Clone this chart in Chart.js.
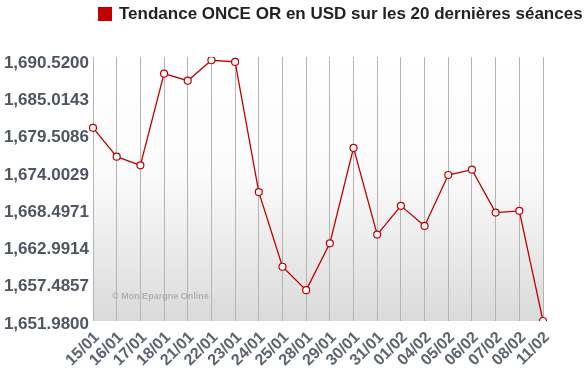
<!DOCTYPE html>
<html>
<head>
<meta charset="utf-8">
<script src="https://cdn.jsdelivr.net/npm/chart.js@4/dist/chart.umd.min.js"></script>
<style>
html,body{margin:0;padding:0;background:#fff;}
#wrap{width:588px;height:371px;position:relative;}
</style>
</head>
<body>
<div id="wrap"><canvas id="c"></canvas></div>
<script>
const titleText = "Tendance ONCE OR en USD sur les 20 dernières séances";
const categories = ["15/01","16/01","17/01","18/01","21/01","22/01","23/01","24/01","25/01","28/01","29/01","30/01","31/01","01/02","04/02","05/02","06/02","07/02","08/02","11/02"];
const prices = [1680.53,1676.27,1674.99,1688.54,1687.50,1690.52,1690.27,1671.03,1660.00,1656.54,1663.46,1677.56,1664.75,1669.00,1666.03,1673.56,1674.34,1668.01,1668.26,1651.98];
const yTickValues = [1651.98,1657.4857,1662.9914,1668.4971,1674.0029,1679.5086,1685.0143,1690.52];
const yTickLabels = ["1,651.9800","1,657.4857","1,662.9914","1,668.4971","1,674.0029","1,679.5086","1,685.0143","1,690.5200"];
const watermark = "© Mon Epargne Online";

const bgPlugin = {
  id: 'bg',
  beforeDraw(chart) {
    const {ctx, chartArea: a} = chart;
    const g = ctx.createLinearGradient(0, a.top, 0, a.bottom);
    g.addColorStop(0, '#ffffff');
    g.addColorStop(0.45, '#fbfbfb');
    g.addColorStop(1, '#dadada');
    ctx.save();
    ctx.fillStyle = g;
    ctx.fillRect(a.left, a.top, a.right - a.left, a.bottom - a.top);
    ctx.restore();
  },
  beforeDatasetsDraw(chart) {
    const {ctx} = chart;
    ctx.save();
    ctx.font = 'bold 9px "Liberation Sans", Arial, sans-serif';
    ctx.fillStyle = '#b0b0b0';
    ctx.textBaseline = 'middle';
    ctx.fillText(watermark, 112, 297);
    ctx.restore();
  },
  afterDraw(chart) {
    const {ctx} = chart;
    ctx.save();
    ctx.fillStyle = '#c00000';
    ctx.fillRect(98, 7, 14, 14);
    ctx.font = 'bold 17px "Liberation Sans", Arial, sans-serif';
    ctx.fillStyle = '#222222';
    ctx.textBaseline = 'middle';
    ctx.fillText(titleText, 119, 14);
    ctx.restore();
  }
};

new Chart(document.getElementById('c'), {
  type: 'line',
  data: {
    labels: categories,
    datasets: [{
      data: prices,
      borderColor: '#c00000',
      borderWidth: 1.3,
      backgroundColor: '#ffffff',
      pointBackgroundColor: '#ffffff',
      pointBorderColor: '#c00000',
      pointBorderWidth: 1.2,
      pointRadius: 3.5,
      tension: 0,
      fill: false
    }]
  },
  options: {
    responsive: true,
    maintainAspectRatio: false,
    animation: false,
    layout: { padding: { top: 57, right: 45, bottom: 0, left: 0 } },
    plugins: { legend: { display: false }, tooltip: { enabled: false } },
    scales: {
      x: {
        offset: false,
        grid: { display: true, color: '#b4b4b4', lineWidth: 1, drawTicks: false, drawOnChartArea: true },
        border: { display: false },
        ticks: {
          maxRotation: 45, minRotation: 45, autoSkip: false,
          color: '#5b6470', padding: 7, labelOffset: 4,
          font: { family: '"Liberation Sans", Arial, sans-serif', size: 16, weight: 'bold' }
        },
        afterFit(s) { s.height = 50; }
      },
      y: {
        min: 1651.98,
        max: 1691.0,
        grid: { display: false, drawTicks: false },
        border: { display: false },
        afterBuildTicks(s) { s.ticks = yTickValues.map(v => ({ value: v })); },
        ticks: {
          color: '#4e5661', padding: 4, labelOffset: 3,
          font: { family: '"Liberation Sans", Arial, sans-serif', size: 17, weight: 'bold' },
          callback(v) { const i = yTickValues.indexOf(v); return i >= 0 ? yTickLabels[i] : ''; }
        },
        afterFit(s) { s.width = 93; }
      }
    }
  },
  plugins: [bgPlugin]
});
</script>
</body>
</html>
